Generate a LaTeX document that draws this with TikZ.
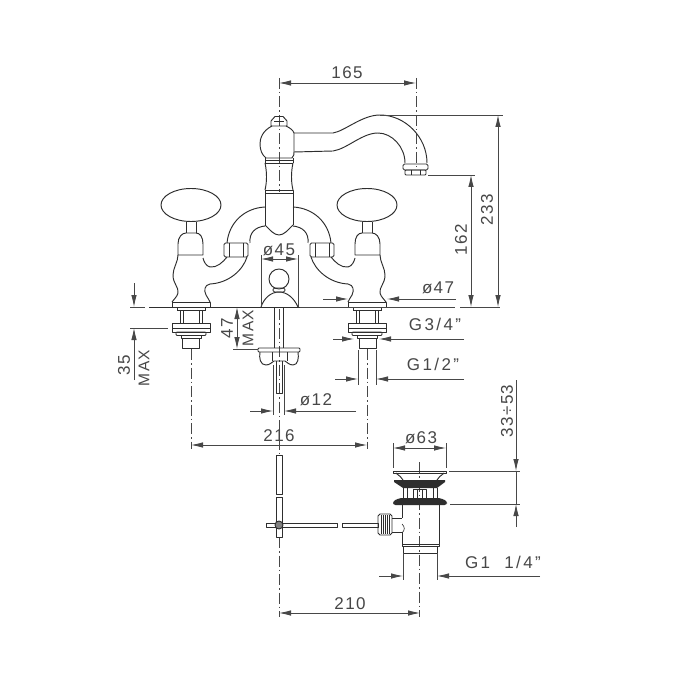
\documentclass[tikz,border=0pt]{standalone}
\usepackage{fontspec}
\setmainfont[LetterSpace=8]{Liberation Sans}
\newfontfamily\widefont[LetterSpace=14]{Liberation Sans}
\usetikzlibrary{arrows.meta}
\definecolor{inkdark}{gray}{0.18}
\definecolor{inkdim}{gray}{0.28}
\tikzset{
    part/.style={draw=inkdark, line width=0.95pt, line join=round},
    thinpart/.style={draw=inkdark, line width=0.6pt},
    axisline/.style={draw=inkdim, line width=0.6pt, dash pattern=on 11pt off 3pt on 1.5pt off 3pt},
    dimline/.style={draw=inkdim, line width=0.8pt},
    dimarrow/.style={dimline, {Latex[length=12pt,width=5.5pt]}-{Latex[length=12pt,width=5.5pt]}},
    dimtip/.style={dimline, -{Latex[length=12pt,width=5.5pt]}},
    dimtext/.style={font=\fontsize{17}{19}\selectfont, text=inkdim, inner sep=0pt},
    threadtext/.style={dimtext, font=\widefont\fontsize{17}{19}\selectfont},
    dimvert/.style={dimtext, rotate=90},
    maxtext/.style={dimvert, font=\fontsize{15.5}{17}\selectfont},
}
\begin{document}
\begin{tikzpicture}[x=1pt, y=-1pt]
    \useasboundingbox (0,0) rectangle (700,700);
    \fill[white] (0,0) rectangle (700,700);

    % axes
    \draw[axisline] (279,78) -- (279,192);
    \draw[axisline] (416,78) -- (416,170);
    \draw[axisline] (279,309) -- (279,455);
    \draw[axisline] (279,537) -- (279,617);
    \draw[axisline] (191,349) -- (191,449);
    \draw[axisline] (367,349) -- (367,449);
    \draw[axisline] (419,462) -- (419,617);

    % finial and column
    \draw[part] (271,126) -- (271,121) -- (275,116.5) -- (283,116.5) -- (287,121) -- (287,126) -- cycle;
    \draw[thinpart] (274,121) -- (284,121);
    \draw[part] (272,126) .. controls (262,131) and (260,139) .. (260,144)
        .. controls (260,150) and (262,155) .. (266,158) -- (292,158)
        .. controls (294,156) and (294,154) .. (294,152) -- (294,133)
        .. controls (293,130) and (290,128) .. (286,126);
    \draw[part] (265,160) -- (293,160);
    \draw[part] (265,163) -- (293,163);
    \draw[part] (265,158) -- (265,163);
    \draw[part] (293,158) -- (293,163);
    \draw[part] (265,163) .. controls (267,172) and (267,182) .. (265,190);
    \draw[part] (293,163) .. controls (291,172) and (291,182) .. (293,190);
    \draw[part] (265,190) rectangle (293,193);
    \draw[part] (265,193) -- (265,225);
    \draw[part] (293,193) -- (293,225);

    % spout
    \draw[part] (294,133) -- (333,133) .. controls (345,131) and (362,115) .. (380,115)
        .. controls (405,115) and (427,137) .. (427,163);
    \draw[part] (294,152) -- (333,151) .. controls (347,149) and (362,133) .. (378,133)
        .. controls (392,133) and (405,147) .. (405,163);
    \draw[part, rounded corners=1.5pt] (403,164) rectangle (428,170);
    \draw[part, rounded corners=1pt] (405,170) rectangle (426,175);
    \draw[thinpart] (411,170) -- (411,175);
    \draw[thinpart] (420,170) -- (420,175);

    % taps and arches, left and right
    \foreach \side in {1,-1} {
    \begin{scope}[shift={(279,0)}, xscale=\side]
        % arch
        \draw[part] (-52,243) .. controls (-50,222) and (-34,208) .. (-14,207);
        \draw[part] (-29,243) .. controls (-30,233) and (-24,227) .. (-14,226);
        \draw[part] (-52,257) .. controls (-56,262) and (-62,268) .. (-69,267)
            .. controls (-73,266) and (-75,262) .. (-76,258);
        \draw[part] (-32,257) .. controls (-36,270) and (-50,283) .. (-69,284)
            .. controls (-75,285) and (-75,291) .. (-73,295)
            .. controls (-71,298) and (-70,300) .. (-69,302);
        % nut
        \draw[part, rounded corners=1.5pt] (-55,243) rectangle (-31,257);
        \draw[thinpart] (-50,243) -- (-50,257);
        \draw[thinpart] (-36,243) -- (-36,257);
        % handle
        \draw[part] (-88,205) ellipse [x radius=30, y radius=16.5];
        \draw[part] (-93,222) -- (-93,233);
        \draw[part] (-83,222) -- (-83,233);
        \draw[part] (-101,255) -- (-101,244) .. controls (-101,237) and (-97,233) .. (-93,233)
            -- (-83,233) .. controls (-79,233) and (-76,237) .. (-76,244) -- (-76,255) -- cycle;
        % body
        \draw[part] (-101,255) .. controls (-101,262) and (-106,268) .. (-106,275)
            .. controls (-106,284) and (-100,287) .. (-101,293)
            .. controls (-102,297) and (-105,299) .. (-107,302);
        % flange and tail
        \draw[part] (-107,302) rectangle (-69,307);
        \draw[thinpart] (-102,307) rectangle (-74,310);
        \draw[part] (-99,310) -- (-99,323);
        \draw[part] (-77,310) -- (-77,323);
        \draw[thinpart] (-96,310) -- (-96,323);
        \draw[thinpart] (-80,310) -- (-80,323);
        \draw[part] (-107,323) rectangle (-69,328);
        \draw[part] (-107,328) rectangle (-69,332);
        \draw[part, rounded corners=1pt] (-103,332) rectangle (-73,335.5);
        \draw[part] (-98,335.5) rectangle (-78,338);
        \draw[part] (-97,338) -- (-97,348) -- (-80,348) -- (-80,338);
    \end{scope}
    }
    % bottom of the column
    \draw[part] (265,225) .. controls (270,230) and (274,235) .. (279,235)
        .. controls (284,235) and (288,230) .. (293,225);

    % pop-up lever knob
    \draw[part] (279,279) circle [radius=10];
    \draw[part, rounded corners=1.5pt] (273,288) rectangle (285,292);
    \draw[part] (261,307) .. controls (264,298) and (271,292) .. (279,292)
        .. controls (287,292) and (294,298) .. (298,307);

    % deck line
    \draw[part] (149,307) -- (300,307);
    \draw[dimline] (130,307) -- (145,307);
    \draw[dimline] (300,307) -- (455,307);
    \draw[dimline] (460,307) -- (500,307);

    % rod and wing nut
    \draw[part] (274,307) -- (274,348);
    \draw[part] (283,307) -- (283,348);
    \draw[part, rounded corners=1pt] (258,348) rectangle (300,352);
    \draw[part] (260,352) .. controls (259,358) and (260,365) .. (266,365)
        .. controls (270,365) and (272,362) .. (274,361) -- (285,361)
        .. controls (287,362) and (289,365) .. (293,365)
        .. controls (298,365) and (299,358) .. (298,352);
    \draw[part] (272,352) -- (272,361);
    \draw[part] (287,352) -- (287,361);
    \draw[part] (276,361) -- (276,393) -- (282,393) -- (282,361);
    \draw[part] (276,455) rectangle (282,494);
    \draw[part] (276,497) rectangle (282,537);

    % lever
    \draw[part] (337,523) -- (266,523) -- (266,527) -- (337,527) -- cycle;
    \draw[part] (342,523) rectangle (378,527);
    \draw[part, fill=inkdark!60!white] (279,525) circle [radius=4];

    % waste
    \draw[part] (378,516) -- (380,514) -- (390,514) -- (392,516) -- (392,533) -- (390,535) -- (380,535) -- (378,533) -- cycle;
    \foreach \knurl in {381,383,...,389} {
        \draw[thinpart] (\knurl,515) -- (\knurl,534);
    }
    \draw[part] (392,518) -- (402,518);
    \draw[part] (392,532) -- (402,532);
    \draw[thinpart] (402,524) .. controls (405,527) and (405,530) .. (402,533);
    \draw[part] (393,471) rectangle (446,473);
    \draw[part] (396,473) .. controls (399,476) and (402,477) .. (403,480);
    \draw[part] (444,473) .. controls (441,476) and (438,477) .. (437,480);
    \fill[inkdark] (394,480) -- (445,480) -- (445,482) -- (437,488) -- (403,488) -- (394,482) -- cycle;
    \draw[part] (403,488) -- (403,498);
    \draw[part] (437,488) -- (437,498);
    \draw[part] (407,488) -- (407,498);
    \draw[part] (433,488) -- (433,498);
    \draw[part] (413,489) rectangle (426,498);
    \draw[thinpart] (417,489) -- (417,498);
    \draw[thinpart] (422,489) -- (422,498);
    \fill[inkdark, rounded corners=2.5pt] (393,505) -- (393,501) -- (400,498) -- (440,498) -- (447,501) -- (447,505) -- cycle;
    \draw[part] (402,505) -- (402,518);
    \draw[part] (402,532) -- (402,544);
    \draw[part] (439,505) -- (439,544);
    \draw[part] (402,544) rectangle (439,546);
    \draw[part] (403,546) rectangle (437,553);

    % dimension 165
    \draw[dimarrow] (279,83) -- (416,83);
    \node[dimtext] (d165) at (347,73) {165};
    % dimension 233 and 162
    \draw[dimline] (380,115) -- (503,115);
    \draw[dimarrow] (498,115) -- (498,307);
    \node[dimvert] (d233) at (487,210) {233};
    \draw[dimline] (428,175) -- (475,175);
    \draw[dimarrow] (471,175) -- (471,307);
    \node[dimvert] (d162) at (461,240) {162};
    % diameter 45
    \draw[dimline] (261,255) -- (261,307);
    \draw[dimline] (298,255) -- (298,307);
    \draw[dimarrow] (261,259) -- (298,259);
    \node[dimtext] (d45) at (279,250) {ø45};
    % diameter 47
    \draw[dimtip] (323,299) -- (348,299);
    \draw[dimtip] (456,299) -- (387,299);
    \node[dimtext] (d47) at (438,288) {ø47};
    % G3/4
    \draw[dimtip] (333,339) -- (354,339);
    \draw[dimtip] (464,339) -- (379,339);
    \node[threadtext] (dg34) at (435,324) {G3/4”};
    % G1/2
    \draw[dimline] (358,350) -- (358,385);
    \draw[dimline] (376,350) -- (376,385);
    \draw[dimtip] (335,379) -- (358,379);
    \draw[dimtip] (464,379) -- (376,379);
    \node[threadtext] (dg12) at (433,364) {G1/2”};
    % 35 MAX
    \draw[dimtip] (134,283) -- (134,307);
    \draw[dimtip] (134,380) -- (134,328);
    \draw[dimline] (130,328) -- (168,328);
    \node[dimvert] (d35) at (124,365) {35};
    \node[maxtext] (dmax1) at (144,368) {MAX};
    % 47 MAX
    \draw[dimarrow] (237,307) -- (237,349);
    \draw[dimline] (233,349) -- (258,349);
    \node[dimvert] (d47max) at (227,328) {47};
    \node[maxtext] (dmax2) at (248,328) {MAX};
    % diameter 12
    \draw[dimline] (273,365) -- (273,415);
    \draw[dimline] (284,365) -- (284,415);
    \draw[dimtip] (250,411) -- (273,411);
    \draw[dimtip] (356,411) -- (284,411);
    \node[dimtext] (d12) at (316,400) {ø12};
    % 216
    \draw[dimarrow] (191,445) -- (367,445);
    \node[dimtext] (d216) at (279,436) {216};
    % diameter 63
    \draw[dimline] (393,443) -- (393,468);
    \draw[dimline] (446,443) -- (446,468);
    \draw[dimarrow] (393,448) -- (446,448);
    \node[dimtext] (d63) at (421,438) {ø63};
    % 33-53
    \draw[dimline] (449,471) -- (520,471);
    \draw[dimline] (450,504) -- (520,504);
    \draw[dimtip] (516,380) -- (516,471);
    \draw[dimtip] (516,527) -- (516,504);
    \draw[dimline] (516,471) -- (516,504);
    \node[dimvert] (d3353) at (507,411) {33÷53};
    % G1 1/4
    \draw[dimline] (403,553) -- (403,580);
    \draw[dimline] (437,553) -- (437,580);
    \draw[dimtip] (379,576) -- (403,576);
    \draw[dimtip] (540,576) -- (437,576);
    \node[threadtext] (dg114) at (503,562) {G1\ \ 1/4”};
    % 210
    \draw[dimarrow] (279,613) -- (420,613);
    \node[dimtext] (d210) at (350,604) {210};
\end{tikzpicture}
\end{document}
